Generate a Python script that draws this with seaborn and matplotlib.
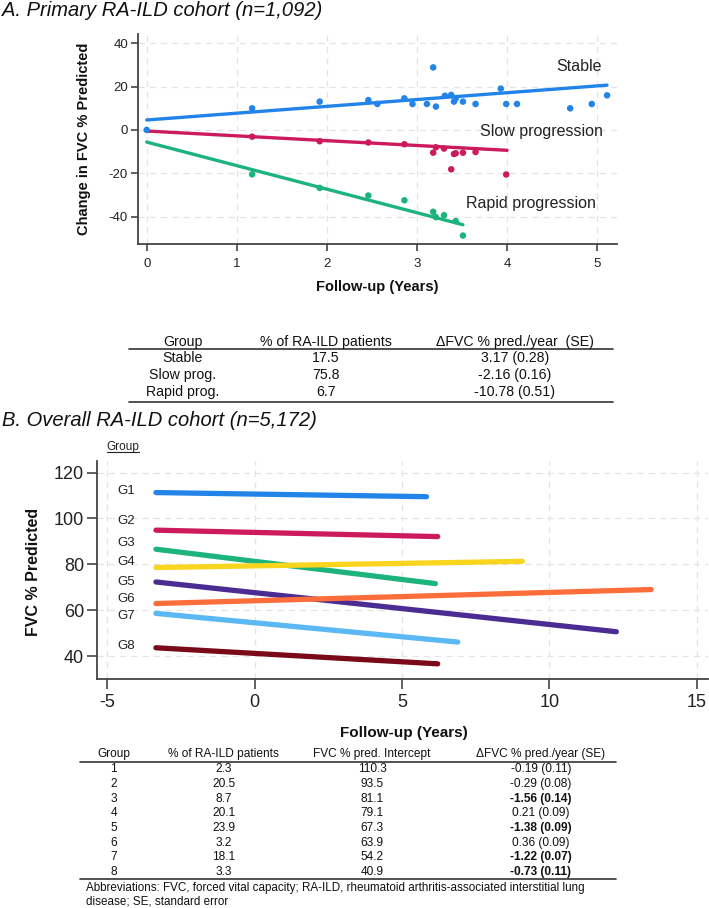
import numpy as np
import pandas as pd
import matplotlib
matplotlib.use('Agg')
import matplotlib.pyplot as plt
from matplotlib.lines import Line2D
import seaborn as sns

## ============================================================
## Panel A: primary cohort trajectories

visit_stable = [0, 1.17, 1.92, 2.46, 2.56, 2.86, 2.95, 3.11, 3.18, 3.21, 3.31, 3.38, 3.41, 3.43,
                3.51, 3.65, 3.93, 3.99, 4.11, 4.70, 4.94, 5.11]
fvc_stable = [0, 10.0, 13.1, 13.8, 12.0, 14.6, 12.0, 12.0, 28.9, 10.8, 15.8, 16.2, 13.1, 14.6,
              13.1, 12.0, 19.1, 12.0, 12.0, 10.0, 12.0, 16.0]
visit_slow = [1.17, 1.92, 2.46, 2.86, 3.18, 3.21, 3.30, 3.38, 3.41, 3.43, 3.51, 3.65, 3.99]
fvc_slow = [-3.1, -5.2, -5.8, -6.6, -10.5, -8.0, -8.6, -18.2, -11.1, -10.8, -10.5, -10.2, -20.6]
visit_rapid = [1.17, 1.92, 2.46, 2.86, 3.18, 3.21, 3.30, 3.43, 3.51]
fvc_rapid = [-20.5, -26.8, -30.3, -32.5, -37.8, -40.3, -39.4, -42.1, -48.8]

# fitted lines (start / end)
fit_stable_x = [0, 5.11]
fit_stable_y = [4.6, 20.7]
fit_slow_x = [0, 4.0]
fit_slow_y = [-0.5, -9.4]
fit_rapid_x = [0, 3.51]
fit_rapid_y = [-5.6, -43.8]

groups_a = ['Stable', 'Slow progression', 'Rapid progression']
colors_a = ['#2284e8', '#cc1a5c', '#1db37c']

table_a_header = ['Group', '% of RA-ILD patients', '\u0394FVC % pred./year  (SE)']
table_a_group = ['Stable', 'Slow prog.', 'Rapid prog.']
table_a_pct = ['17.5', '75.8', '6.7']
table_a_slope = ['3.17 (0.28)', '-2.16 (0.16)', '-10.78 (0.51)']

## ============================================================
## Panel B: overall cohort, 8 groups

groups_b = ['G1', 'G2', 'G3', 'G4', 'G5', 'G6', 'G7', 'G8']
colors_b = ['#2284e8', '#cc1a5c', '#1db37c', '#fad51e', '#4a2c93', '#fb6d3a', '#5cb8f4', '#7a0a18']
start_x = [-3.35] * 8
start_y = [111.3, 94.9, 86.6, 78.6, 72.3, 62.9, 58.6, 43.6]
end_x = [5.83, 6.21, 6.13, 9.08, 12.27, 13.45, 6.89, 6.21]
end_y = [109.5, 92.1, 71.6, 81.3, 50.6, 69.0, 46.1, 36.6]
label_y = [112.2, 98.8, 89.4, 81.1, 72.4, 64.7, 57.5, 44.4]

table_b_header = ['Group', '% of RA-ILD patients', 'FVC % pred. Intercept', '\u0394FVC % pred./year (SE)']
table_b_group = ['1', '2', '3', '4', '5', '6', '7', '8']
table_b_pct = ['2.3', '20.5', '8.7', '20.1', '23.9', '3.2', '18.1', '3.3']
table_b_icpt = ['110.3', '93.5', '81.1', '79.1', '67.3', '63.9', '54.2', '40.9']
table_b_slope = ['-0.19 (0.11)', '-0.29 (0.08)', '-1.56 (0.14)', '0.21 (0.09)',
                 '-1.38 (0.09)', '0.36 (0.09)', '-1.22 (0.07)', '-0.73 (0.11)']
table_b_bold = [False, False, True, False, True, False, True, True]

## ============================================================

sns.set_style('white')
plt.rcParams['font.family'] = ['Liberation Sans', 'DejaVu Sans']
plt.rcParams['axes.unicode_minus'] = False

W, H = 709., 908.
fig = plt.figure(figsize=(W / 100, H / 100), dpi=100)

def fx(x):
	return x / W

def fy(y):
	return 1. - y / H

def hline(x0, x1, y, lw=1.2):
	fig.add_artist(Line2D([fx(x0), fx(x1)], [fy(y), fy(y)], transform=fig.transFigure,
			color='#333333', lw=lw))

def style_axes(ax, tlen, lsize):
	sns.despine(ax=ax, top=True, right=True)
	for s in ['left', 'bottom']:
		ax.spines[s].set_color('#444444')
		ax.spines[s].set_linewidth(1.3)
	ax.grid(True, color='#e4e4e4', lw=0.9, ls=(0, (5, 4)))
	ax.set_axisbelow(True)
	ax.tick_params(direction='out', length=tlen, width=1.2, color='#444444',
			labelsize=lsize, labelcolor='#222222', left=True, bottom=True, pad=2)

## ----- panel A -----

df_pts = pd.concat([
	pd.DataFrame({'x': visit_stable, 'y': fvc_stable, 'group': groups_a[0]}),
	pd.DataFrame({'x': visit_slow, 'y': fvc_slow, 'group': groups_a[1]}),
	pd.DataFrame({'x': visit_rapid, 'y': fvc_rapid, 'group': groups_a[2]}),
])
df_fit = pd.concat([
	pd.DataFrame({'x': fit_stable_x, 'y': fit_stable_y, 'group': groups_a[0]}),
	pd.DataFrame({'x': fit_slow_x, 'y': fit_slow_y, 'group': groups_a[1]}),
	pd.DataFrame({'x': fit_rapid_x, 'y': fit_rapid_y, 'group': groups_a[2]}),
])
pal_a = dict(zip(groups_a, colors_a))

axA = fig.add_axes([fx(137.7), fy(244.), fx(617. - 137.7), (244. - 34.3) / H])
sns.lineplot(data=df_fit, x='x', y='y', hue='group', palette=pal_a, lw=2.4,
		estimator=None, sort=False, legend=False, ax=axA)
sns.scatterplot(data=df_pts, x='x', y='y', hue='group', palette=pal_a, s=22,
		edgecolor='none', legend=False, ax=axA, zorder=3)
axA.set_xlim(-0.1, 5.22)
axA.set_ylim(-52.7, 44.2)
axA.set_xticks([0, 1, 2, 3, 4, 5])
axA.set_yticks([-40, -20, 0, 20, 40])
axA.set_xlabel('')
axA.set_ylabel('')
style_axes(axA, 5, 9.5)
axA.tick_params(axis='x', pad=5)

axA.text(5.05, 29.5, 'Stable', ha='right', va='center', size=11.5, color='#222222')
axA.text(5.06, -0.9, 'Slow progression', ha='right', va='center', size=11.5, color='#222222')
axA.text(4.98, -33.8, 'Rapid progression', ha='right', va='center', size=11.5, color='#222222')

fig.text(fx(2), fy(15.5), 'A. Primary RA-ILD cohort (n=1,092)', ha='left', va='baseline',
		size=14.5, style='italic', color='#111111')
fig.text(fx(84), fy(139), 'Change in FVC % Predicted', rotation=90, ha='center', va='center',
		size=10.5, weight='bold', color='#111111')
fig.text(fx(377), fy(286.7), 'Follow-up (Years)', ha='center', va='center',
		size=10.5, weight='bold', color='#111111')

# table A
cols_a = [183, 326, 515]
rows_a = [358.3, 375., 391.7]
for cx, t in zip(cols_a, table_a_header):
	fig.text(fx(cx), fy(341.7), t, ha='center', va='center', size=10.2, color='#111111')
hline(129, 613, 348.5)
for ry, g, p, s in zip(rows_a, table_a_group, table_a_pct, table_a_slope):
	for cx, t in zip(cols_a, [g, p, s]):
		fig.text(fx(cx), fy(ry), t, ha='center', va='center', size=10.2, color='#111111')
hline(129, 613, 401.7)

## ----- panel B -----

df_b = pd.concat([
	pd.DataFrame({'x': [sx, ex], 'y': [sy, ey], 'group': g})
	for g, sx, sy, ex, ey in zip(groups_b, start_x, start_y, end_x, end_y)
])
pal_b = dict(zip(groups_b, colors_b))

axB = fig.add_axes([fx(96.7), fy(678.5), fx(708. - 96.7), (678.5 - 460.7) / H])
sns.lineplot(data=df_b, x='x', y='y', hue='group', palette=pal_b, lw=3.8,
		estimator=None, sort=False, legend=False, ax=axB)
axB.set_xlim(-5.36, 15.38)
axB.set_ylim(30.2, 125.2)
axB.set_xticks([-5, 0, 5, 10, 15])
axB.set_yticks([40, 60, 80, 100, 120])
axB.set_xlabel('')
axB.set_ylabel('')
style_axes(axB, 7, 13)
axB.tick_params(axis='x', pad=4)

for g, ly in zip(groups_b, label_y):
	axB.text(-4.37, ly, g, ha='center', va='center', size=9.5, color='#222222')

fig.text(fx(2), fy(426), 'B. Overall RA-ILD cohort (n=5,172)', ha='left', va='baseline',
		size=14.5, style='italic', color='#111111')
grp = fig.text(fx(123), fy(446.7), 'Group', ha='center', va='center', size=8.5, color='#222222')
fig.text(fx(33.3), fy(571.7), 'FVC % Predicted', rotation=90, ha='center', va='center',
		size=11.5, weight='bold', color='#111111')
fig.text(fx(404), fy(733.3), 'Follow-up (Years)', ha='center', va='center',
		size=11, weight='bold', color='#111111')

# underline for "Group"
fig.canvas.draw()
bb = grp.get_window_extent().transformed(fig.transFigure.inverted())
fig.add_artist(Line2D([bb.x0, bb.x1], [bb.y0 + 0.001, bb.y0 + 0.001], transform=fig.transFigure,
		color='#222222', lw=0.8))

# table B
cols_b = [113.6, 223.7, 372, 541]
rows_b = [769.3, 784.3, 799., 813.3, 827.7, 842.7, 857.3, 872.]
for cx, t in zip(cols_b, table_b_header):
	fig.text(fx(cx), fy(754.3), t, ha='center', va='center', size=8.6, color='#111111')
hline(79.5, 616, 761.5)
for ry, g, p, i, s, b in zip(rows_b, table_b_group, table_b_pct, table_b_icpt, table_b_slope, table_b_bold):
	for cx, t in zip(cols_b[:3], [g, p, i]):
		fig.text(fx(cx), fy(ry), t, ha='center', va='center', size=8.6, color='#111111')
	fig.text(fx(cols_b[3]), fy(ry), s, ha='center', va='center', size=8.6, color='#111111',
			weight='bold' if b else 'normal')
hline(79.5, 616, 879.)

fig.text(fx(85.5), fy(888.3), 'Abbreviations: FVC, forced vital capacity; RA-ILD, rheumatoid '
		'arthritis-associated interstitial lung', ha='left', va='center', size=8.4, color='#111111')
fig.text(fx(85.5), fy(901.7), 'disease; SE, standard error', ha='left', va='center',
		size=8.4, color='#111111')

fig.savefig('out.png', dpi=100, facecolor='white')
